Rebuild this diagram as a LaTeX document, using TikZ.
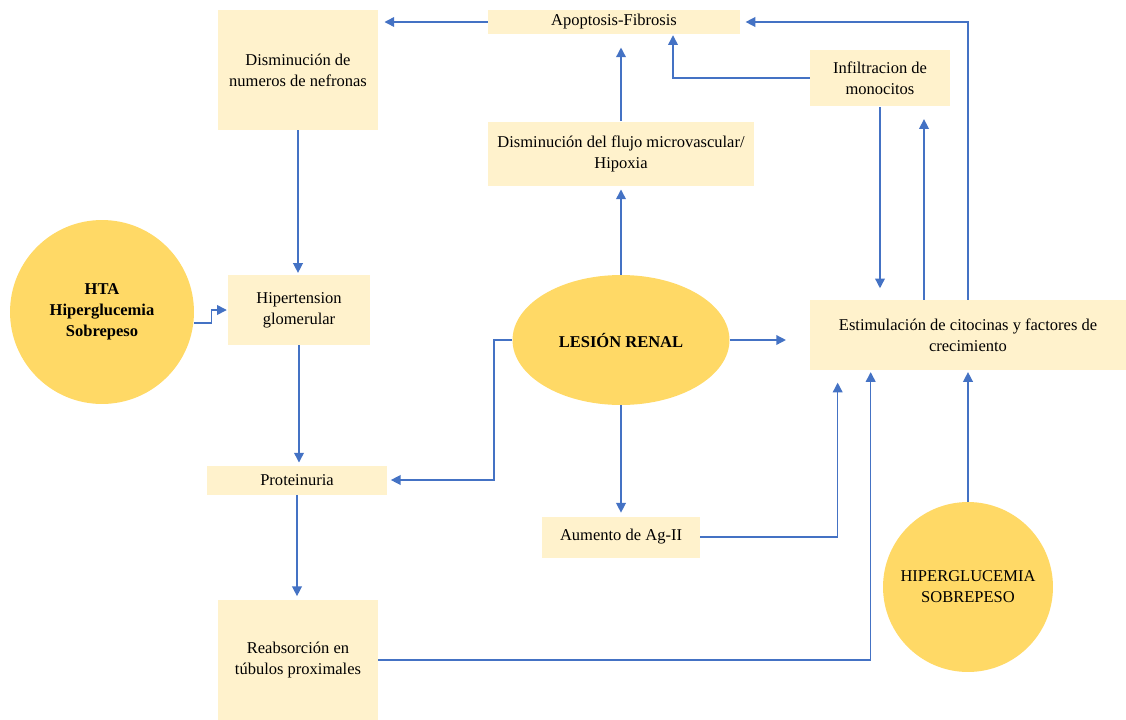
\documentclass[tikz,border=0pt]{standalone}
\usepackage{fontspec}
\setmainfont{Liberation Serif}
\usetikzlibrary{arrows.meta,shapes.geometric,calc}
\definecolor{cajafondo}{HTML}{FFF2CC}
\definecolor{circulofondo}{HTML}{FFD966}
\definecolor{flechaazul}{HTML}{4472C4}
\begin{document}
\begin{tikzpicture}[
        x=0.02cm, y=-0.02cm,
        every node/.style={align=center, inner sep=1pt, font=\fontsize{9.4}{12}\selectfont},
        caja/.style={fill=cajafondo},
        circulo/.style={circle, fill=circulofondo},
        flecha/.style={draw=flechaazul, line width=0.8pt, -{Triangle[width=5.5pt,length=5.5pt]}}
    ]
        \useasboundingbox (0,0) rectangle (1126,720);

        \node[caja, minimum width=3.2cm, minimum height=2.4cm] (nefronas) at (298,70) {Disminución de\\numeros de nefronas};
        \node[caja, minimum width=5.04cm, minimum height=0.48cm] (apoptosis) at (614,22) {Apoptosis-Fibrosis};
        \node[caja, minimum width=2.8cm, minimum height=1.14cm] (infiltracion) at (880,78) {Infiltracion de\\monocitos};
        \node[caja, minimum width=5.32cm, minimum height=1.3cm] (hipoxia) at (621,154) {Disminución del flujo microvascular/\\Hipoxia};
        \node[circulo, minimum size=3.68cm, font=\fontsize{9.4}{12}\selectfont\bfseries] (hta) at (102,312) {HTA\\Hiperglucemia\\Sobrepeso};
        \node[caja, minimum width=2.84cm, minimum height=1.4cm] (hipertension) at (299,310) {Hipertension\\glomerular};
        \node[ellipse, fill=circulofondo, minimum width=4.34cm, minimum height=2.6cm, font=\fontsize{9.4}{12}\selectfont\bfseries] (lesion) at (621,340) {LESIÓN RENAL};
        \node[caja, minimum width=6.32cm, minimum height=1.4cm] (estimulacion) at (968,335) {Estimulación de citocinas y factores de\\crecimiento};
        \node[caja, minimum width=3.6cm, minimum height=0.58cm] (proteinuria) at (297,480) {Proteinuria};
        \node[caja, minimum width=3.16cm, minimum height=0.82cm] (aumento) at (621,537) {Aumento de Ag-II};
        \node[caja, minimum width=3.2cm, minimum height=2.4cm] (reabsorcion) at (298,660) {Reabsorción en\\túbulos proximales};
        \node[circulo, minimum size=3.4cm] (hiperglucemia) at (968,587) {HIPERGLUCEMIA\\SOBREPESO};

        \draw[flecha, shorten >=3.5pt] (apoptosis.west) -- (nefronas.east |- apoptosis.west);
        \draw[flecha, shorten >=3pt] (estimulacion.north) -- (estimulacion.north |- apoptosis.east) -- (apoptosis.east);
        \draw[flecha, shorten >=0.5pt] (infiltracion.west) -| ($(apoptosis.south)+(59,0)$);
        \draw[flecha, shorten >=7.5pt] (hipoxia.north) -- (hipoxia.north |- apoptosis.south);
        \draw[flecha, shorten >=1.5pt] (lesion.north) -- (hipoxia.south);
        \draw[flecha, shorten >=6.5pt] (infiltracion.south) -- (infiltracion.south |- estimulacion.north);
        \draw[flecha, shorten >=7pt] ($(estimulacion.north)+(-44,0)$) -- ($(infiltracion.south)+(44,0)$);
        \draw[flecha, shorten >=1pt] (nefronas.south) -- (nefronas.south |- hipertension.north);
        \draw[flecha, shorten >=0.5pt] ($(hta.east)+(0,11)$) -- ++(17,0) |- (hipertension.west);
        \draw[flecha, shorten >=1.5pt] (hipertension.south) -- (hipertension.south |- proteinuria.north);
        \draw[flecha, shorten >=2pt] (lesion.west) -- ++(-18,0) |- (proteinuria.east);
        \draw[flecha, shorten >=13.5pt] (lesion.east) -- (estimulacion.west |- lesion.east);
        \draw[flecha, shorten >=2pt] (lesion.south) -- (aumento.north);
        \draw[flecha, shorten >=7pt] (aumento.east) -| ($(estimulacion.south west)+(28,0)$);
        \draw[flecha, shorten >=2pt] (proteinuria.south) -- (proteinuria.south |- reabsorcion.north);
        \draw[flecha, shorten >=1pt] (reabsorcion.east) -| ($(estimulacion.south west)+(61,0)$);
        \draw[flecha, shorten >=1pt] (hiperglucemia.north) -- (estimulacion.south);
    \end{tikzpicture}
\end{document}
